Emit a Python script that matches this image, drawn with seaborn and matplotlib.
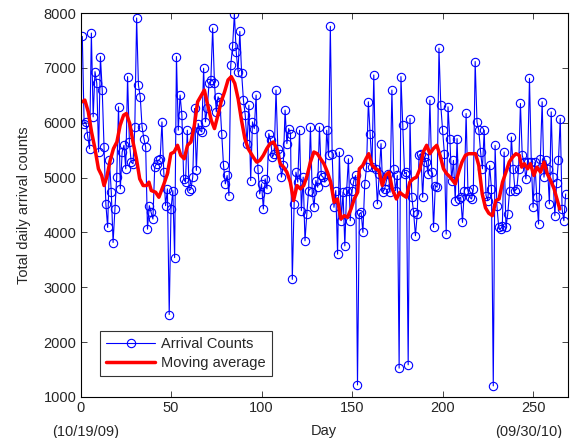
import numpy as np
import pandas as pd
import matplotlib
matplotlib.use("Agg")
import matplotlib.pyplot as plt
import seaborn as sns

# daily arrival counts, day 1..268
counts = [
    7573, 5985, 6015, 5750, 5527, 7634, 6107, 6931, 6718, 5466,
    7206, 6596, 5557, 4519, 4091, 5313, 4733, 3816, 4427, 5008,
    6290, 4794, 5466, 5588, 5160, 6840, 5649, 5283, 5252, 5924,
    7909, 6687, 6473, 5924, 5710, 5557, 4060, 4488, 4366, 4244,
    5191, 5252, 5313, 5343, 6015, 5100, 4488, 4794, 2503, 4427,
    4763, 3541, 7206, 5863, 6504, 6137, 4977, 4916, 5863, 4763,
    4794, 5008, 6260, 5130, 5985, 5863, 5832, 6992, 6015, 6260,
    6718, 6779, 7725, 6718, 6199, 6473, 6382, 5800, 5221, 4885,
    5038, 4672, 7054, 7390, 7982, 7298, 6931, 7664, 6901, 6412,
    6137, 5618, 6321, 4946, 6015, 5893, 6504, 5160, 4702, 4885,
    4427, 4977, 4794, 5801, 5679, 5374, 5435, 6595, 5527, 5435,
    5008, 5221, 6229, 5618, 5893, 5801, 3144, 4519, 5099, 4916,
    5863, 4397, 5008, 3847, 4336, 4763, 5924, 4733, 4458, 4946,
    4824, 5924, 5038, 5008, 4916, 5863, 5405, 7756, 5435, 4458,
    4763, 3603, 5466, 4214, 4733, 3755, 4763, 5343, 4214, 4763,
    4946, 5038, 1220, 4336, 4366, 4000, 4885, 5191, 6382, 5801,
    5191, 6870, 5160, 4519, 5069, 5618, 4733, 4794, 4946, 5069,
    4733, 6595, 5160, 4763, 5038, 1526, 6840, 5954, 5069, 5099,
    1587, 6076, 4641, 4366, 3939, 4336, 5405, 5435, 4641, 5374,
    5282, 5069, 6412, 5099, 4091, 4855, 4824, 7359, 6321, 5863,
    5435, 3969, 6290, 5710, 4946, 5313, 4580, 5710, 4610, 4641,
    4183, 4763, 6168, 4763, 4641, 4610, 4794, 7115, 6015, 5863,
    5466, 5160, 5863, 4672, 4580, 5221, 4800, 1202, 5588, 4488,
    4091, 4060, 4122, 5466, 4091, 4336, 4763, 5740, 5160, 4763,
    4794, 5160, 6351, 5405, 5282, 4977, 5282, 6809, 5282, 4458,
    5282, 4641, 4152, 5343, 6382, 5008, 5313, 5160, 4519, 6198,
    5008, 4305, 4900, 5313, 6076, 4427, 4214, 4702,
]
days = list(range(1, len(counts) + 1))

# moving average curve
ma_days = [
    1, 2.4, 4.3, 6.1, 8, 9.9, 11.7, 13, 14.5, 16.4, 18.2, 20.1, 21.9, 23.8, 25.3,
    27.2, 29, 30.9, 32.7, 34.6, 36.5, 37.8, 39.1, 41.5, 43.3,
    46.1, 48, 49.9, 51.7, 53.6, 55.4, 57.3, 59.1, 61, 62.9, 64.7, 66.6, 68.4,
    70.3, 72.2, 74, 75.9, 77.7, 79.6, 81.5, 83.3, 85.2,
    87.1, 88.9, 90.8, 92.6, 95.4, 97.3, 99.1, 101, 102.9, 104.7, 106.6, 108.4,
    110.3, 112.2, 114, 115.9, 117.7, 119.6, 121.5, 123.3, 125.2, 127, 128.9,
    130.8, 132.6, 134.5,
    136.4, 138.2, 140.1, 141.9, 143.8, 145.7, 147.5, 149.4, 151.2, 153.1, 154,
    155.9, 157.7, 159.2, 161.1, 163, 164.8, 166.7, 168.5, 170.4, 172.2, 174.5,
    176.3, 178.2, 180, 181.9, 183.7, 185.6, 187.5, 189.3, 191.2, 193, 194.9,
    196.8, 198.6, 200.5, 202.3, 204.2, 207, 208.9, 210.7, 212.6, 214.4, 216.3,
    218.2, 220,
    221.9, 223.7, 225.5, 227.5, 229.4, 231.2, 233.1, 235, 236.8, 238.7, 240.5,
    242.4, 243.7, 245.2, 247, 248.5, 250.4, 252.2, 254.1, 256, 257.8, 259.7,
    261.6, 263.4, 264.7,
]
ma_vals = [
    6382, 6412, 6198, 5832, 5527, 5160, 5038, 4855, 5008, 5313, 5527, 5649, 5954,
    6137, 6168, 5985, 5649, 5343, 4977, 4855, 4855, 4916, 4763, 4733, 4641,
    4885, 5069, 5435, 5466, 5588, 5405, 5343, 5588, 5649, 5954, 6382, 6492, 6595,
    6321, 6046, 5893, 6137, 6382, 6565, 6779, 6840, 6718,
    6430, 6050, 5710, 5527, 5374, 5282, 5313, 5405, 5527, 5618, 5649, 5527,
    5252, 5191, 5099, 4916, 4580, 4855, 4794, 4855, 5038, 5282, 5466,
    5435, 5343, 5250,
    5099, 4916, 4549, 4610, 4244, 4305, 4275, 4427, 4610, 4733, 5160,
    5221, 5343, 5435, 5221, 5160, 5130, 4855, 5038, 5099, 4794, 4610,
    4730, 4680, 4641, 4916, 4977, 5008, 5160, 5466, 5588, 5435, 5527,
    5588, 5405, 5160, 5069, 5008, 4885, 5099, 5282, 5405, 5435, 5435,
    5435, 5221,
    4700, 4450, 4350, 4305, 4580, 4610, 4916, 5099, 5282, 5374, 5435,
    5405, 5191, 5252, 5160, 5252, 5038, 5191, 5099, 5282, 5069, 4946,
    4794, 4580, 4427,
]

x_ticks = [0, 50, 100, 150, 200, 250]
y_ticks = [1000, 2000, 3000, 4000, 5000, 6000, 7000, 8000]
date_days = [0, 250]
date_labels = ['(10/19/09)', '(09/30/10)']
date_shift = [4, -3]  # points, horizontal nudge as in the reference

sns.set_style("white")
plt.rcParams['font.family'] = ['Liberation Sans', 'DejaVu Sans']

fig = plt.figure(figsize=(5.74, 4.38), dpi=100)
ax = fig.add_axes([80.5 / 574, 1 - 397 / 438, 487 / 574, 384 / 438])

sns.lineplot(x=days, y=counts, ax=ax, color='#0000ff', linewidth=0.8,
             marker='o', markersize=6, markerfacecolor='none',
             markeredgecolor='#0000ff', markeredgewidth=0.8,
             label='Arrival Counts', sort=False, estimator=None)
sns.lineplot(x=ma_days, y=ma_vals, ax=ax, color='#ff0000', linewidth=2.5,
             label='Moving average', sort=False, estimator=None)

ax.set_xlim(0, 269)
ax.set_ylim(1000, 8000)
ax.set_xticks(x_ticks)
ax.set_xticklabels([str(v) for v in x_ticks], fontsize=10.5)
ax.set_yticks(y_ticks)
ax.set_yticklabels([str(v) for v in y_ticks], fontsize=10.5)
ax.tick_params(direction='in', length=4, width=0.6, top=True, right=True,
               bottom=True, left=True, pad=3)
for s in ax.spines.values():
    s.set_color('black')
    s.set_linewidth(0.8)

# start / end dates under the first and last ticks
for d, lab, dx in zip(date_days, date_labels, date_shift):
    ax.annotate(lab, xy=(d, 0), xycoords=('data', 'axes fraction'),
                xytext=(dx, -20), textcoords='offset points',
                ha='center', va='top', fontsize=10.5)

ax.set_xlabel('Day', fontsize=10.5)
ax.xaxis.label.set_va('center')
ax.xaxis.set_label_coords(0.5, -0.088)
ax.set_ylabel('Total daily arrival counts', fontsize=10.5, labelpad=9)

leg = ax.legend(loc='lower left', bbox_to_anchor=(0.025, 0.035), fontsize=10.5,
                frameon=True, fancybox=False, edgecolor='black',
                borderpad=0.4, handlelength=3.4, labelspacing=0.35,
                handletextpad=0.4)
leg.get_frame().set_linewidth(0.8)

fig.savefig('out.png', dpi=100)
